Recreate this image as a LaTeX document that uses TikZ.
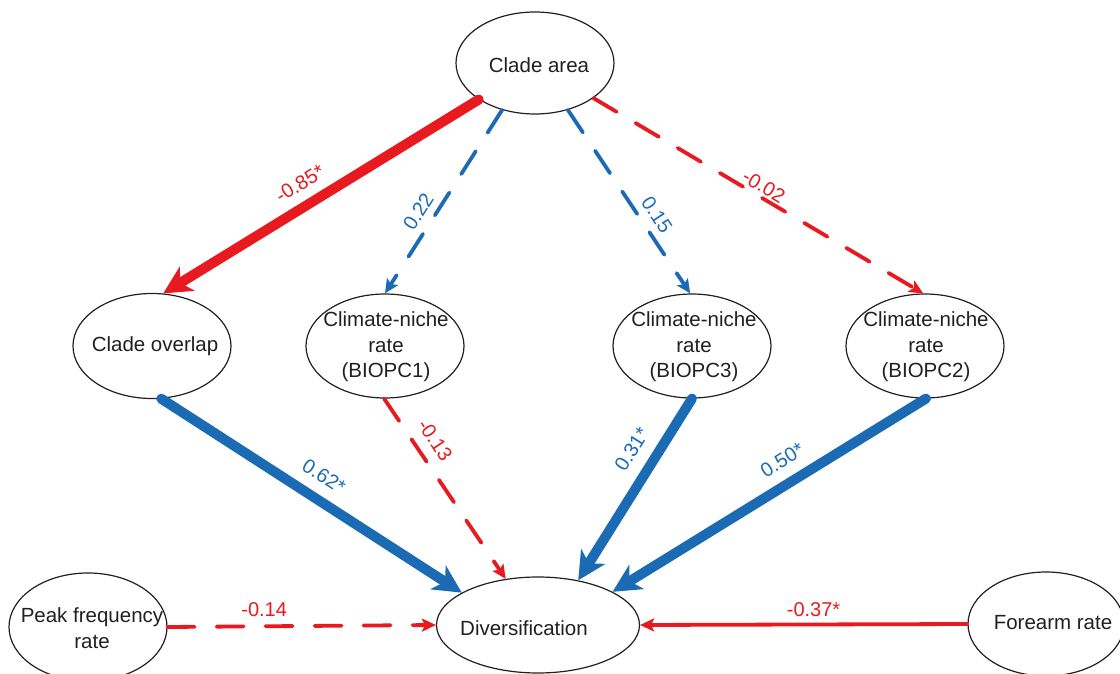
\documentclass[tikz,border=0pt]{standalone}
\usepackage{fontspec}
\setmainfont{Liberation Sans}
\usetikzlibrary{arrows.meta,shapes.geometric}
\definecolor{cred}{RGB}{232,25,31}
\definecolor{cblue}{RGB}{26,107,180}
\definecolor{cink}{RGB}{35,31,32}
\begin{document}
\begin{tikzpicture}[x=1pt,y=-1pt,
  ell/.style={ellipse, draw=cink, line width=1.2pt, inner sep=0pt},
  txt/.style={text=cink, font=\fontsize{20.5}{25.5}\selectfont, align=center, inner sep=0pt},
  lab/.style={font=\fontsize{20}{22}\selectfont, inner sep=2pt},
  strongpath/.style={line width=10pt, line cap=round, -{Stealth[length=28pt,width=28pt,inset=8pt]}},
  weakpath/.style={line width=3.8pt, line cap=round, -{Stealth[length=14pt,width=13pt,inset=3pt]}},
  dashpath/.style={dash pattern=on 27pt off 22pt}]
\useasboundingbox (0,0) rectangle (1120,674);
% nodes
\node[ell, minimum width=158pt, minimum height=102pt] (ca) at (535,63) {};
\node[txt] (cat) at (539,65) {Clade area};
\node[ell, minimum width=158pt, minimum height=105pt] (co) at (152,346) {};
\node[txt] (cot) at (155,346) {Clade overlap};
\node[ell, minimum width=158pt, minimum height=104pt] (b1) at (385,346) {};
\node[txt] (b1t) at (386,347) {Climate-niche\\rate\\(BIOPC1)};
\node[ell, minimum width=158pt, minimum height=104pt] (b3) at (692,346) {};
\node[txt] (b3t) at (694,347) {Climate-niche\\rate\\(BIOPC3)};
\node[ell, minimum width=158pt, minimum height=104pt] (b2) at (925,346) {};
\node[txt] (b2t) at (926,347) {Climate-niche\\rate\\(BIOPC2)};
\node[ell, minimum width=203pt, minimum height=96pt] (div) at (538,625) {};
\node[txt] (divt) at (524,628) {Diversification};
\node[ell, minimum width=158pt, minimum height=108pt] (pf) at (88,627) {};
\node[txt] (pft) at (92,628) {Peak frequency\\rate};
\node[ell, minimum width=156pt, minimum height=104pt] (fa) at (1046,624) {};
\node[txt] (fat) at (1053,623) {Forearm rate};
% connectors
\draw[cred, strongpath] (ca.213) -- node[lab, sloped, above=8pt, pos=0.53]{-0.85*} (co.78);
\draw[cblue, weakpath, dashpath] (ca.235) -- node[lab, sloped, above=5pt, pos=0.6]{0.22} (b1.90);
\draw[cblue, weakpath, dashpath] (ca.305) -- node[lab, sloped, above=5pt, pos=0.62]{0.15} (b3.92);
\draw[cred, weakpath, dashpath] (ca.-31) -- node[lab, sloped, above=0pt, pos=0.5]{-0.02} (b2.92);
\draw[cblue, strongpath] (co.-80) -- node[lab, sloped, above=9pt, pos=0.5]{0.62*} (div.157);
\draw[cred, weakpath, dashpath] (b1.-91) -- node[lab, sloped, above=8pt, pos=0.29]{-0.13} (div.125);
\draw[cblue, strongpath] (b3.-90) -- node[lab, sloped, above=10pt, pos=0.35]{0.31*} (div.48);
\draw[cblue, strongpath] (b2.-89) -- node[lab, sloped, above=9pt, pos=0.42]{0.50*} (div.24);
\draw[cred, weakpath, dashpath] (pf.east) -- node[lab, above=6pt, pos=0.36]{-0.14} (div.west);
\draw[cred, weakpath] (fa.west) -- node[lab, above=4pt, pos=0.47]{-0.37*} (div.east);
\end{tikzpicture}
\end{document}
